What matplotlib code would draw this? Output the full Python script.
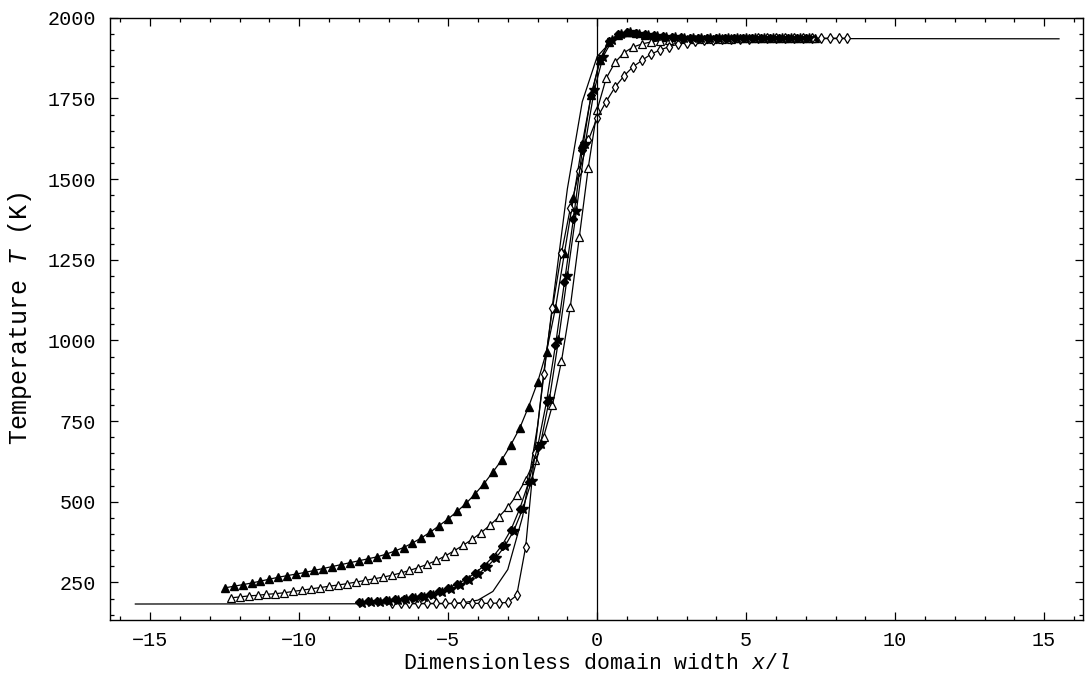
import matplotlib
matplotlib.use('Agg')
import matplotlib.pyplot as plt
from matplotlib.ticker import MultipleLocator

plt.rcParams['font.family'] = 'Liberation Mono'
plt.rcParams['mathtext.fontset'] = 'custom'
plt.rcParams['mathtext.rm'] = 'Liberation Mono'
plt.rcParams['mathtext.it'] = 'Liberation Mono:italic'

# filled triangles
x_tri_f = [-12.5, -12.2, -11.9, -11.6, -11.3, -11.0, -10.7, -10.4, -10.1, -9.8,
           -9.5, -9.2, -8.9, -8.6, -8.3, -8.0, -7.7, -7.4, -7.1, -6.8,
           -6.5, -6.2, -5.9, -5.6, -5.3, -5.0, -4.7, -4.4, -4.1, -3.8,
           -3.5, -3.2, -2.9, -2.6, -2.3, -2.0, -1.7, -1.4, -1.1, -0.8,
           -0.5, -0.2, 0.1, 0.4, 0.7, 1.0, 1.3, 1.6, 1.9, 2.2,
           2.5, 2.8, 3.1, 3.4, 3.7, 4.0, 4.3, 4.6, 4.9, 5.2,
           5.5, 5.8, 6.1, 6.4, 6.7, 7.0, 7.3]
T_tri_f = [233, 238, 243, 248, 254, 260, 266, 271, 276, 281,
           287, 293, 299, 305, 311, 317, 323, 329, 337, 347,
           358, 372, 388, 406, 426, 447, 470, 495, 524, 556,
           592, 630, 676, 728, 795, 870, 965, 1100, 1270, 1440,
           1610, 1760, 1870, 1925, 1948, 1955, 1952, 1948, 1945, 1942,
           1940, 1939, 1938, 1937, 1937, 1936, 1936, 1936, 1936, 1936,
           1936, 1936, 1936, 1936, 1936, 1936, 1936]

# open triangles
x_tri_o = [-12.3, -12.0, -11.7, -11.4, -11.1, -10.8, -10.5, -10.2, -9.9, -9.6,
           -9.3, -9.0, -8.7, -8.4, -8.1, -7.8, -7.5, -7.2, -6.9, -6.6,
           -6.3, -6.0, -5.7, -5.4, -5.1, -4.8, -4.5, -4.2, -3.9, -3.6,
           -3.3, -3.0, -2.7, -2.4, -2.1, -1.8, -1.5, -1.2, -0.9, -0.6,
           -0.3, 0.0, 0.3, 0.6, 0.9, 1.2, 1.5, 1.8, 2.1, 2.4,
           2.7, 3.0, 3.3, 3.6, 3.9, 4.2, 4.5, 4.8, 5.1, 5.4,
           5.7, 6.0, 6.3, 6.6, 6.9, 7.2]
T_tri_o = [202, 205, 208, 210, 213, 215, 218, 222, 226, 230,
           234, 238, 242, 246, 251, 256, 261, 266, 272, 279,
           287, 296, 306, 318, 332, 348, 365, 383, 404, 427,
           453, 483, 520, 568, 628, 700, 800, 935, 1105, 1320,
           1535, 1715, 1812, 1862, 1892, 1909, 1919, 1925, 1929, 1932,
           1933, 1934, 1935, 1935, 1935, 1935, 1935, 1936, 1936, 1936,
           1936, 1936, 1936, 1936, 1936, 1936]

# open diamonds
x_dia_o = [-6.9, -6.6, -6.3, -6.0, -5.7, -5.4, -5.1, -4.8, -4.5, -4.2,
           -3.9, -3.6, -3.3, -3.0, -2.7, -2.4, -2.1, -1.8, -1.5, -1.2,
           -0.9, -0.6, -0.3, 0.0, 0.3, 0.6, 0.9, 1.2, 1.5, 1.8,
           2.1, 2.4, 2.7, 3.0, 3.3, 3.6, 3.9, 4.2, 4.5, 4.8,
           5.1, 5.4, 5.7, 6.0, 6.3, 6.6, 6.9, 7.2, 7.5, 7.8,
           8.1, 8.4]
T_dia_o = [185, 185, 185, 185, 185, 185, 185, 185, 185, 185,
           185, 185, 186, 188, 210, 360, 650, 895, 1100, 1270,
           1410, 1525, 1620, 1690, 1740, 1785, 1820, 1848, 1868, 1887,
           1900, 1910, 1918, 1923, 1927, 1930, 1932, 1933, 1934, 1935,
           1935, 1936, 1936, 1936, 1936, 1936, 1937, 1937, 1937, 1937,
           1937, 1937]

# filled diamonds
x_dia_f = [-8.0, -7.7, -7.4, -7.1, -6.8, -6.5, -6.2, -5.9, -5.6, -5.3,
           -5.0, -4.7, -4.4, -4.1, -3.8, -3.5, -3.2, -2.9, -2.6, -2.3,
           -2.0, -1.7, -1.4, -1.1, -0.8, -0.5, -0.2, 0.1, 0.4, 0.7,
           1.0, 1.3, 1.6, 1.9, 2.2, 2.5, 2.8, 3.1, 3.4, 3.7,
           4.0, 4.3, 4.6, 4.9, 5.2, 5.5, 5.8, 6.1, 6.4, 6.7,
           7.0]
T_dia_f = [190, 191, 193, 195, 197, 200, 204, 209, 215, 223,
           233, 245, 260, 279, 301, 329, 364, 412, 478, 560,
           670, 810, 985, 1180, 1375, 1590, 1762, 1872, 1927, 1950,
           1956, 1953, 1949, 1946, 1943, 1941, 1940, 1939, 1938, 1938,
           1937, 1937, 1937, 1937, 1937, 1936, 1936, 1936, 1936, 1936,
           1936]

# stars
x_star = [-7.9, -7.6, -7.3, -7.0, -6.7, -6.4, -6.1, -5.8, -5.5, -5.2,
          -4.9, -4.6, -4.3, -4.0, -3.7, -3.4, -3.1, -2.8, -2.5, -2.2,
          -1.9, -1.6, -1.3, -1.0, -0.7, -0.4, -0.1, 0.2, 0.5, 0.8,
          1.1, 1.4, 1.7, 2.0, 2.3, 2.6, 2.9, 3.2, 3.5, 3.8,
          4.1, 4.4, 4.7, 5.0, 5.3, 5.6, 5.9, 6.2, 6.5, 6.8,
          7.1]
T_star = [187, 188, 190, 192, 194, 197, 201, 206, 212, 220,
          230, 242, 257, 276, 298, 326, 362, 410, 478, 565,
          680, 820, 1000, 1200, 1400, 1610, 1775, 1880, 1930, 1951,
          1955, 1951, 1947, 1944, 1942, 1940, 1939, 1938, 1938, 1937,
          1937, 1937, 1937, 1936, 1936, 1936, 1936, 1936, 1936, 1936,
          1936]

# plain line, no markers
x_plain = [-15.5, -5.0, -4.5, -4.0, -3.5, -3.0, -2.5, -2.0, -1.5, -1.0,
           -0.5, 0.0, 0.5, 1.0, 1.5, 2.0, 3.0, 15.5]
T_plain = [183, 184, 187, 195, 222, 290, 455, 735, 1110, 1470,
           1740, 1880, 1930, 1942, 1940, 1938, 1936, 1935]

fig = plt.figure(figsize=(10.85, 6.86), dpi=100)
ax = fig.add_axes([0.1014, 0.096, 0.8966, 0.878])

lw = 0.9
ms = 5.5
ax.plot(x_plain, T_plain, color='black', linewidth=lw)
ax.plot(x_tri_f, T_tri_f, color='black', linewidth=lw, marker='^', markersize=ms,
        markerfacecolor='black', markeredgecolor='black')
ax.plot(x_tri_o, T_tri_o, color='black', linewidth=lw, marker='^', markersize=ms,
        markerfacecolor='white', markeredgecolor='black', markeredgewidth=0.9)
ax.plot(x_dia_o, T_dia_o, color='black', linewidth=lw, marker='d', markersize=5,
        markerfacecolor='white', markeredgecolor='black', markeredgewidth=0.9)
ax.plot(x_dia_f, T_dia_f, color='black', linewidth=lw, marker='D', markersize=4.5,
        markerfacecolor='black', markeredgecolor='black')
ax.plot(x_star, T_star, color='black', linewidth=lw, marker='*', markersize=7,
        markerfacecolor='black', markeredgecolor='black')

ax.axvline(0, color='black', linewidth=0.9)

ax.set_xlim(-16.35, 16.3)
ax.set_ylim(133, 2000)
ax.xaxis.set_major_locator(MultipleLocator(5))
ax.xaxis.set_minor_locator(MultipleLocator(1))
ax.yaxis.set_minor_locator(MultipleLocator(50))
ax.set_yticks([250, 500, 750, 1000, 1250, 1500, 1750, 2000])

ax.tick_params(which='both', direction='in', top=True, right=True, labelsize=14.5, width=0.9)
ax.tick_params(which='major', length=6)
ax.tick_params(which='minor', length=3)
ax.tick_params(axis='x', pad=8)
ax.tick_params(axis='y', pad=10)
for s in ax.spines.values():
    s.set_linewidth(1.0)

ax.set_xlabel('Dimensionless domain width $x/l$', fontsize=15.5, labelpad=2)
ax.set_ylabel('Temperature $T$ (K)', fontsize=18, labelpad=10)

plt.savefig('out.png', dpi=100)
